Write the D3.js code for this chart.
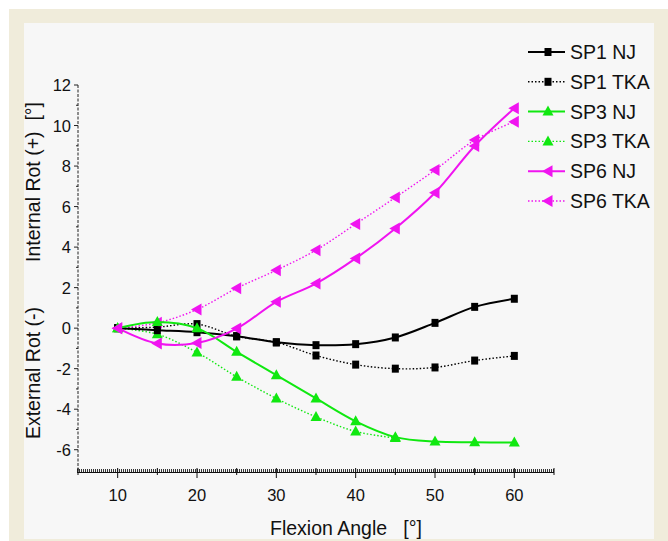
<!DOCTYPE html>
<html><head><meta charset="utf-8">
<script src="https://cdn.jsdelivr.net/npm/d3@7"></script>
<style>body{margin:0;background:#fff}svg{display:block}text{font-family:"Liberation Sans",Arial,sans-serif;fill:#111}</style>
</head><body>
<script>
// Data
const angles = [10,15,20,25,30,35,40,45,50,55,60];
const sp1NJ  = [0,-0.1,-0.2,-0.4,-0.7,-0.84,-0.79,-0.46,0.26,1.05,1.45];
const sp1TKA = [0,0.05,0.2,-0.4,-0.7,-1.35,-1.8,-2.0,-1.94,-1.6,-1.37];
const sp3NJ  = [0,0.3,0,-1.17,-2.32,-3.47,-4.6,-5.38,-5.6,-5.63,-5.65];
const sp3TKA = [0,-0.3,-1.2,-2.4,-3.47,-4.38,-5.1,-5.42];
const sp6NJ  = [0,-0.76,-0.73,-0.02,1.3,2.2,3.44,4.92,6.68,8.99,10.85];
const sp6TKA = [0,0.26,0.92,1.97,2.86,3.85,5.14,6.45,7.8,9.28,10.19];
const seriesNames = ["SP1 NJ","SP1 TKA","SP3 NJ","SP3 TKA","SP6 NJ","SP6 TKA"];
const xTicks = [10,20,30,40,50,60];
const yTicks = [-6,-4,-2,0,2,4,6,8,10,12];

const W=668,H=541;
const svg=d3.select("body").append("svg").attr("width",W).attr("height",H);
svg.append("rect").attr("x",9).attr("y",9).attr("width",W-9).attr("height",H-9).attr("fill","#f0ecdb");
svg.append("rect").attr("x",24).attr("y",23).attr("width",630).attr("height",516).attr("fill","#f7f7f7");

const x=d3.scaleLinear().domain([5,65]).range([78,554]);
const y=d3.scaleLinear().domain([-7.1,12]).range([472,85]);

const GREEN="#10e810", MAG="#f014f0";
const series=[
  {name:seriesNames[0],vals:sp1NJ, color:"#000",dash:null, marker:"square"},
  {name:seriesNames[1],vals:sp1TKA,color:"#000",dash:"1.5,2",marker:"square"},
  {name:seriesNames[2],vals:sp3NJ, color:GREEN,dash:null, marker:"up"},
  {name:seriesNames[3],vals:sp3TKA,color:GREEN,dash:"1.5,2",marker:"up"},
  {name:seriesNames[4],vals:sp6NJ, color:MAG,dash:null, marker:"left"},
  {name:seriesNames[5],vals:sp6TKA,color:MAG,dash:"1.5,2",marker:"left"}
];

function markerPath(type){
  if(type==="square") return "M-3.5,-4H3.5V4H-3.5Z";
  if(type==="up") return "M0,-6L5.5,4L-5.5,4Z";
  return "M-6,0L4.5,-6L4.5,6Z";
}

// axes
const ax=svg.append("g");
ax.append("line").attr("x1",78).attr("x2",78).attr("y1",y(12)).attr("y2",472)
  .attr("stroke","#222").attr("stroke-width",1).attr("stroke-dasharray","3,1.5");
for(let v=-6;v<=12;v++){
  const major=v%2===0;
  ax.append("line").attr("x1",78).attr("x2",major?74:76).attr("y1",y(v)).attr("y2",y(v)).attr("stroke","#222");
}
ax.selectAll("text.yt").data(yTicks).enter().append("text").attr("class","yt")
  .attr("x",71).attr("y",d=>y(d)+6).attr("text-anchor","end").attr("font-size","16.5px").text(d=>d);
// x axis comb
ax.append("line").attr("x1",77).attr("x2",554).attr("y1",472.5).attr("y2",472.5).attr("stroke","#111").attr("stroke-width",1);
ax.append("line").attr("x1",77).attr("x2",554).attr("y1",470.5).attr("y2",470.5).attr("stroke","#333").attr("stroke-width",3).attr("stroke-dasharray","1,1");
for(let v=5;v<=65;v+=5){
  const major=v%10===0;
  ax.append("line").attr("x1",x(v)).attr("x2",x(v)).attr("y1",468).attr("y2",major?478:475).attr("stroke","#111");
}
ax.selectAll("text.xt").data(xTicks).enter().append("text").attr("class","xt")
  .attr("x",d=>x(d)).attr("y",501).attr("text-anchor","middle").attr("font-size","16.5px").text(d=>d);

svg.append("text").attr("x",346).attr("y",535).attr("text-anchor","middle").attr("font-size","19.5px").attr("xml:space","preserve")
  .text("Flexion Angle   [°]");
svg.append("text").attr("transform","translate(40,182) rotate(-90)").attr("text-anchor","middle").attr("font-size","19.5px").attr("xml:space","preserve")
  .text("Internal Rot (+)  [°]");
svg.append("text").attr("transform","translate(40,373) rotate(-90)").attr("text-anchor","middle").attr("font-size","19.5px")
  .text("External Rot (-)");

// lines
const line=d3.line().x(d=>x(d[0])).y(d=>y(d[1])).curve(d3.curveCatmullRom.alpha(0.5));
const draw=[1,3,5,0,2,4];
draw.forEach(i=>{
  const s=series[i];
  const pts=s.vals.map((v,k)=>[angles[k],v]);
  svg.append("path").attr("d",line(pts)).attr("fill","none").attr("stroke",s.color)
    .attr("stroke-width",s.dash?1.4:2).attr("stroke-dasharray",s.dash);
  svg.append("g").selectAll("path").data(pts).enter().append("path")
    .attr("transform",d=>`translate(${x(d[0])},${y(d[1])})`).attr("d",markerPath(s.marker)).attr("fill",s.color);
});

// legend
series.forEach((s,i)=>{
  const cy=52+i*29.8;
  const g=svg.append("g");
  g.append("line").attr("x1",528).attr("x2",565).attr("y1",cy).attr("y2",cy).attr("stroke",s.color)
    .attr("stroke-width",s.dash?1.4:2).attr("stroke-dasharray",s.dash);
  g.append("path").attr("transform",`translate(548,${cy})`).attr("d",markerPath(s.marker)).attr("fill",s.color);
  g.append("text").attr("x",570).attr("y",cy+7).attr("font-size","19.5px").text(s.name);
});
</script>
</body></html>
